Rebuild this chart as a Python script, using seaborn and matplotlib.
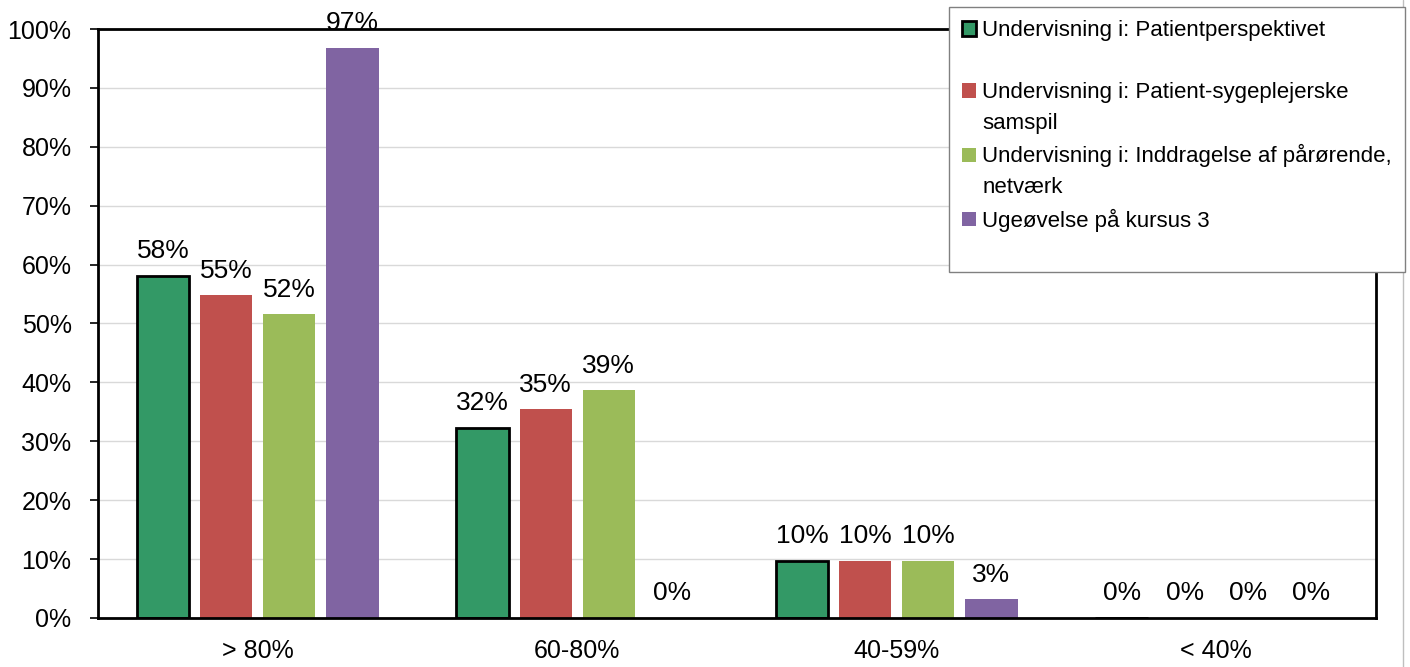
import seaborn as sns
import pandas as pd
import matplotlib.pyplot as plt
from matplotlib.patches import Patch
from matplotlib.lines import Line2D

# data
categories = ["> 80%", "60-80%", "40-59%", "< 40%"]
series = [
    "Undervisning i: Patientperspektivet",
    "Undervisning i: Patient-sygeplejerske samspil",
    "Undervisning i: Inddragelse af pårørende, netværk",
    "Ugeøvelse på kursus 3",
]
patient_persp = [0.581, 0.323, 0.097, 0.0]
patient_samspil = [0.548, 0.354, 0.097, 0.0]
paaroerende = [0.516, 0.387, 0.097, 0.0]
ugeoevelse = [0.968, 0.0, 0.032, 0.0]
colors = ["#339966", "#C0504D", "#9BBB59", "#8064A2"]

# legend text as shown (wrapped the same way)
legend_rows = [
    ("Undervisning i: Patientperspektivet", 0),
    (" ", None),
    ("Undervisning i: Patient-sygeplejerske", 1),
    ("samspil", None),
    ("Undervisning i: Inddragelse af pårørende,", 2),
    ("netværk", None),
    ("Ugeøvelse på kursus 3", 3),
    (" ", None),
]

df = pd.DataFrame({
    "category": categories * 4,
    "series": [s for s in series for _ in categories],
    "value": patient_persp + patient_samspil + paaroerende + ugeoevelse,
})

sns.set_theme(style="white")
plt.rcParams["font.family"] = ["Liberation Sans", "DejaVu Sans"]
plt.rcParams["text.color"] = "black"
plt.rcParams["xtick.color"] = "black"
plt.rcParams["ytick.color"] = "black"

fig = plt.figure(figsize=(14.1, 6.67), dpi=100)
ax = fig.add_axes([0.0695, 0.0735, 0.9064, 0.883])

sns.barplot(data=df, x="category", y="value", hue="series", palette=colors,
            saturation=1, width=0.79, gap=0.17, linewidth=0, legend=False, ax=ax)

# only the first series has a black outline
for bar in ax.containers[0]:
    bar.set_edgecolor("black")
    bar.set_linewidth(2)

for cont in ax.containers:
    vals = [b.get_height() for b in cont]
    ax.bar_label(cont, labels=[f"{v:.0%}" for v in vals], padding=9,
                 fontsize=19, color="black", clip_on=False)

ax.set_ylim(0, 1)
ax.set_xlim(-0.5, 3.5)
ax.set_yticks([i / 10 for i in range(11)])
ax.set_yticklabels([f"{i * 10}%" for i in range(11)])
ax.set_xlabel("")
ax.set_ylabel("")
ax.yaxis.grid(True, color="#d9d9d9", linewidth=1)
ax.set_axisbelow(True)
ax.tick_params(axis="y", left=True, length=6, width=1.2, color="black",
               labelcolor="black", labelsize=18, pad=13, direction="out")
ax.tick_params(axis="x", bottom=False, labelsize=18, labelcolor="black", pad=9)
for sp in ax.spines.values():
    sp.set_visible(True)
    sp.set_color("black")
    sp.set_linewidth(2)

# legend with one row per printed line
handles = []
labels = []
for text, idx in legend_rows:
    if idx is None:
        handles.append(Patch(facecolor="none", edgecolor="none"))
    elif idx == 0:
        handles.append(Patch(facecolor=colors[0], edgecolor="black", linewidth=2))
    else:
        handles.append(Patch(facecolor=colors[idx], edgecolor="none"))
    labels.append(text)

leg = fig.legend(handles, labels, loc="upper left",
                 bbox_to_anchor=(0.673, 0.9895), bbox_transform=fig.transFigure,
                 fontsize=16, frameon=True, fancybox=False, shadow=False,
                 handlelength=0.6, handleheight=0.6, handletextpad=0.3,
                 labelspacing=0.45, borderpad=0.6, borderaxespad=0)
leg.get_texts()[-1].set_fontsize(5)
leg.get_frame().set_edgecolor("#808080")
leg.get_frame().set_linewidth(1)
leg.get_frame().set_facecolor("white")
leg.get_frame().set_alpha(1)

fig.add_artist(Line2D([0.9947, 0.9947], [0, 1], transform=fig.transFigure,
                      color="#bfbfbf", linewidth=1))

fig.savefig("out.png", dpi=100)
